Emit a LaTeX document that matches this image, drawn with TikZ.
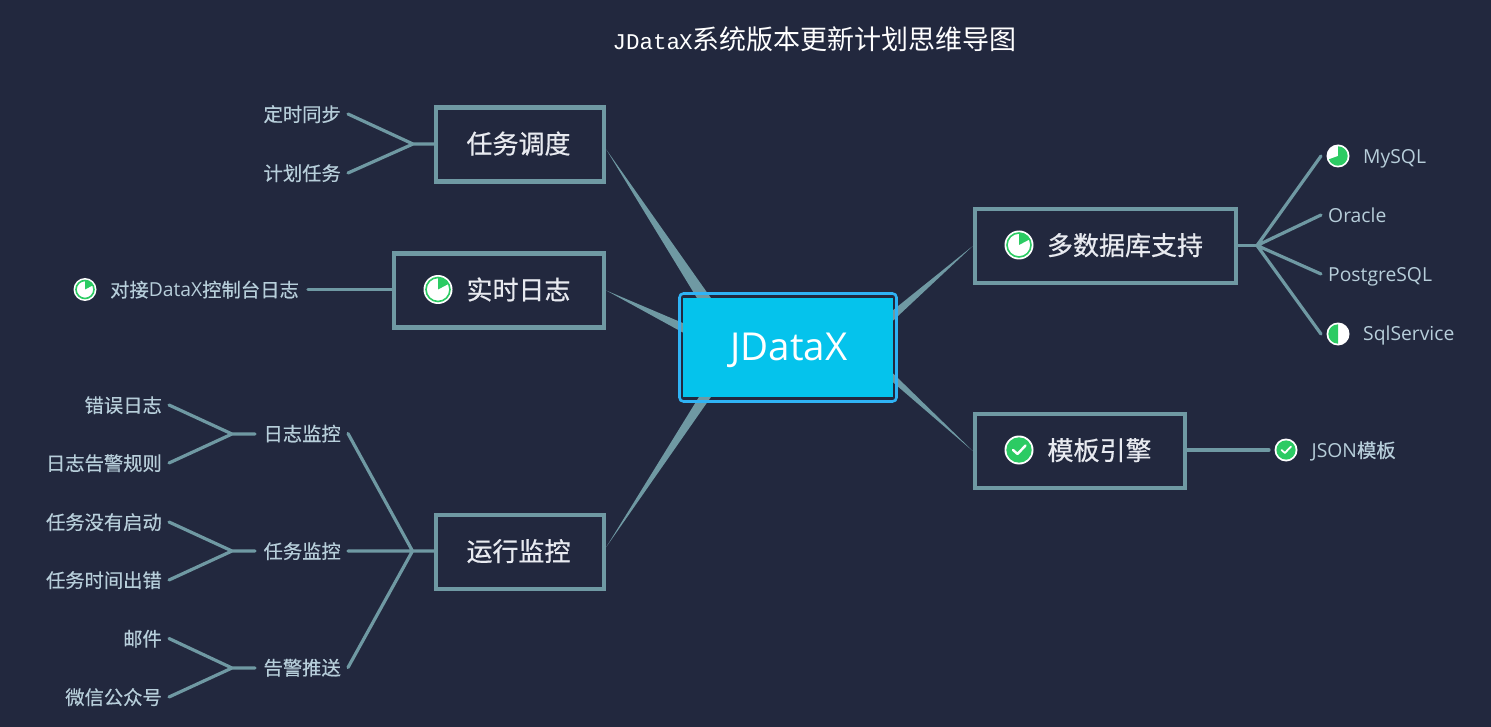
\documentclass[tikz,border=0pt]{standalone}
\usepackage{fontspec}
\setmainfont{Open Sans}
\newfontfamily\cjk[FakeBold=0.4]{Noto Sans CJK SC}
\newfontfamily\cjkbox[FakeBold=0.6]{Noto Sans CJK SC}
\newfontfamily\cjktitle{Noto Sans CJK SC}
\newfontfamily\lat{Open Sans}
\newfontfamily\monolat{Liberation Mono}
\definecolor{bgc}{HTML}{22283E}
\definecolor{linec}{HTML}{6F99A3}
\definecolor{rootc}{HTML}{05C3EC}
\definecolor{ringc}{HTML}{2FB3F5}
\definecolor{labelc}{HTML}{B7CEDA}
\definecolor{boxtxt}{HTML}{E8EAF0}
\definecolor{okc}{HTML}{2CCB63}
\pgfdeclarelayer{canvas}
\pgfdeclarelayer{back}
\pgfsetlayers{canvas,back,main}
\newcommand{\szL}{\fontsize{19.3}{24}\selectfont}
\newcommand{\szB}{\fontsize{26}{32}\selectfont}
\tikzset{
  x=1pt,y=-1pt,
  conn/.style={draw=linec,line width=3.2pt,line cap=round,line join=round},
  taper/.style={fill=linec,draw=none},
  topicbox/.style={draw=linec,line width=4.5pt,fill=bgc,minimum height=74pt,inner sep=0pt,text=boxtxt,font=\cjkbox\szB,text height=25pt,text depth=7pt},
  leafE/.style={anchor=east,inner ysep=0pt,inner xsep=7pt,text=labelc,font=\cjk\szL,text height=17.5pt,text depth=2.5pt},
  leafW/.style={anchor=west,inner ysep=0pt,inner xsep=7pt,text=labelc,font=\lat\szL,text height=18pt,text depth=2pt},
  iconB/.style={circle,fill=white,draw=none,minimum size=29pt,inner sep=0pt},
  iconS/.style={circle,fill=white,draw=none,minimum size=23pt,inner sep=0pt,outer sep=5.5pt},
}
\newcommand{\ringwedge}[3]{% node, radius, wedge radius
  \draw[okc,line width=1.6pt] (#1.center) circle[radius=#2];
  \fill[okc] (#1.center) -- ++(90:#3) arc[start angle=90,end angle=28,radius=#3] -- cycle;
}
\newcommand{\checkmarkicon}[3]{% node, radius, scale
  \fill[okc] (#1.center) circle[radius=#2];
  \draw[white,line width=#3*2.4pt,line cap=round,line join=round]
    ([shift={(#3*-6pt,#3*0pt)}]#1.center) -- ([shift={(#3*-1.5pt,#3*-4pt)}]#1.center) -- ([shift={(#3*6.5pt,#3*4.5pt)}]#1.center);
}
\begin{document}
\begin{tikzpicture}
\useasboundingbox (0,0) rectangle (1491,727);
\begin{pgfonlayer}{canvas}
  \fill[bgc] (0,0) rectangle (1491,727);
\end{pgfonlayer}

\node[text=white,inner sep=0pt] (title) at (814.5,39)
  {\fontsize{22.5}{28}\selectfont\monolat JData\kern-1pt X\fontsize{27}{28}\selectfont\cjktitle 系统版本更新计划思维导图};

% root
\node[draw=ringc,line width=2.6pt,rounded corners=4pt,minimum width=217pt,minimum height=108pt,inner sep=0pt] (ring) at (788,347.5) {};
\node[fill=rootc,minimum width=210pt,minimum height=99pt,inner sep=0pt,text=white,font=\lat\fontsize{38.5}{46}\selectfont,text height=28pt,text depth=3pt] (root) at (788,347.5) {\hspace*{2pt}JDataX};

% topics
\node[topicbox,minimum width=168pt] (b1) at (520,144.5) {任务调度\hspace*{3pt}};
\node[topicbox,minimum width=210pt] (b2) at (499,290.5) {\hspace*{39pt}实时日志};
\node[topicbox,minimum width=168pt] (b3) at (520,552) {运行监控\hspace*{3pt}};
\node[topicbox,minimum width=261pt] (b4) at (1105.5,246) {\hspace*{39pt}多数据库支持};
\node[topicbox,minimum width=210pt] (b5) at (1080,451) {\hspace*{39pt}模板引擎};

% left leaves
\node[leafE] (a1) at (348,114) {定时同步};
\node[leafE] (a2) at (348,173) {计划任务};
\coordinate (ja) at (413,144);
\node[leafW,font=\cjk\szL,inner xsep=0pt,text height=17.5pt,text depth=2.5pt] (c1t) at (110,289.5) {对接{\lat DataX}控制台日志\hspace*{9pt}};
\node[iconS] (c1i) at (85,289.5) {};
\node[leafE] (d1) at (348,433.5) {日志监控};
\node[leafE] (d2) at (348,551) {任务监控};
\node[leafE] (d3) at (348,667.5) {告警推送};
\coordinate (jd) at (412.5,551);
\node[leafE] (e1) at (169,405) {错误日志};
\node[leafE] (e2) at (169,463) {日志告警规则};
\node[leafE] (f1) at (169,522) {任务没有启动};
\node[leafE] (f2) at (169,580) {任务时间出错};
\node[leafE] (g1) at (169,638.5) {邮件};
\node[leafE] (g2) at (169,697) {微信公众号};
\coordinate (je) at (232,434);
\coordinate (jf) at (232,551);
\coordinate (jg) at (232,668);
\coordinate (se) at (255,434);
\coordinate (sf) at (255,551);
\coordinate (sg) at (255,668);

% right leaves
\coordinate (jr) at (1257,245.5);
\node[iconS] (mi) at (1338,156) {};
\node[leafW,inner xsep=0pt] (mt) at (1363,156) {MySQL};
\node[leafW] (ora) at (1321,215) {Oracle};
\node[leafW] (pg) at (1321,274) {PostgreSQL};
\node[iconS] (si) at (1338,334) {};
\node[leafW,inner xsep=0pt] (st) at (1363,333) {SqlService};
\node[iconS] (ji) at (1286,450) {};
\node[leafW,inner xsep=0pt,text height=17.5pt,text depth=2.5pt] (jt) at (1311.5,450) {JSON{\cjk 模板}};

% big icons
\node[iconB] (i2) at (438,289.5) {};
\node[iconB] (i4) at (1019,245) {};
\node[iconB] (i5) at (1019,450) {};
\ringwedge{i2}{12pt}{12pt}
\ringwedge{i4}{12pt}{12pt}
\checkmarkicon{i5}{12.7pt}{1}
\ringwedge{c1i}{9pt}{9pt}
\checkmarkicon{ji}{9.6pt}{0.75}
% MySQL: three quarters and a bit
\fill[okc] (mi.center) -- ++(90:9.7pt) arc[start angle=90,end angle=-160,radius=9.7pt] -- cycle;
% SqlService: half
\fill[okc] (si.center) -- ++(90:9.7pt) arc[start angle=90,end angle=270,radius=9.7pt] -- cycle;

\begin{pgfonlayer}{back}
  % tapered branches from the root
  \fill[taper] ([yshift=-5pt]b1.east) -- ([xshift=14pt]root.north west) -- ([xshift=28pt]root.north west) -- cycle;
  \fill[taper] (b2.east) -- ([yshift=24.5pt]root.west) -- ([yshift=15pt]root.west) -- cycle;
  \fill[taper] ([yshift=5pt]b3.east) -- ([xshift=16pt]root.south west) -- ([xshift=28pt]root.south west) -- cycle;
  \fill[taper] (b4.west) -- ([yshift=37.5pt]root.east) -- ([yshift=27pt]root.east) -- cycle;
  \fill[taper] (b5.west) -- ([yshift=-26pt]root.east) -- ([yshift=-35pt]root.east) -- cycle;
  % leaf connectors
  \draw[conn] (a1.east) -- (ja) (a2.east) -- (ja) (ja) -- (b1.west |- ja);
  \draw[conn] (c1t.east) -- (b2.west |- c1t.east);
  \draw[conn] (d1.east) -- (jd) (d2.east) -- (jd) (d3.east) -- (jd) (jd) -- (b3.west |- jd);
  \draw[conn] (e1.east) -- (je) (e2.east) -- (je) (je) -- (se);
  \draw[conn] (f1.east) -- (jf) (f2.east) -- (jf) (jf) -- (sf);
  \draw[conn] (g1.east) -- (jg) (g2.east) -- (jg) (jg) -- (sg);
  \draw[conn] (b4.east |- jr) -- (jr);
  \draw[conn] (jr) -- (mi.west) (jr) -- (ora.west) (jr) -- (pg.west) (jr) -- (si.west);
  \draw[conn] (b5.east |- ji.west) -- (ji.west);
\end{pgfonlayer}
\end{tikzpicture}
\end{document}
